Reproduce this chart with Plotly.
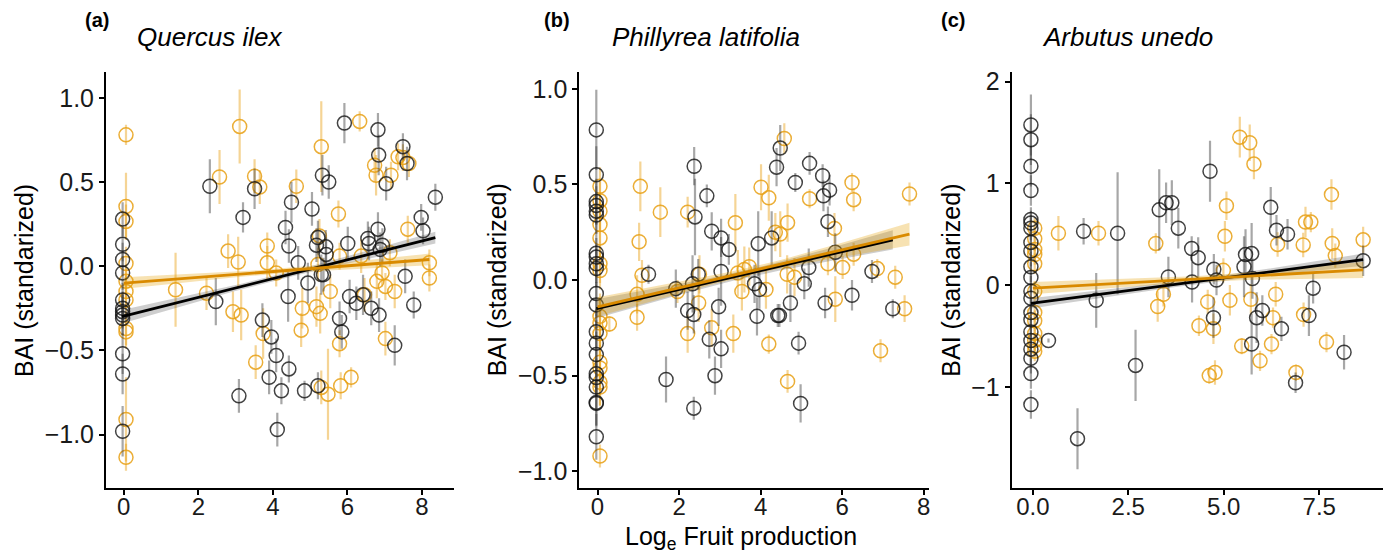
import numpy as np
import plotly.graph_objects as go

# ---------------- data ----------------
# Panel (a) Quercus ilex
a_blk_x = [-0.03]*12 + [2.31,2.47,3.2,3.09,3.51,3.72,3.96,3.9,4.09,4.12,4.23,4.34,4.43,4.41,4.43,4.5,4.68,4.85,4.94,5.05,5.21,5.21,5.17,5.33,5.5,5.42,5.43,5.3,5.36,5.79,5.85,5.92,6.01,6.06,6.24,6.42,6.55,6.58,6.64,6.82,6.84,6.82,6.85,6.94,6.88,7.04,7.27,7.49,7.55,7.6,7.78,7.98,8.03,8.36]
a_blk_y = [0.28,0.13,0.04,-0.04,-0.20,-0.25,-0.29,-0.31,-0.27,-0.52,-0.64,-0.98,
           0.475,-0.21,0.29,-0.77,0.46,-0.32,-0.42,-0.66,-0.53,-0.97,-0.74,0.23,0.12,-0.18,-0.61,0.38,0.02,-0.74,-0.10,0.34,-0.71,0.17,0.125,0.54,0.50,0.115,0.07,-0.05,-0.05,-0.31,-0.39,0.85,0.135,-0.18,-0.22,-0.17,0.165,0.135,-0.25,0.81,0.66,0.22,-0.29,0.125,0.10,0.49,-0.47,0.71,-0.06,0.61,-0.23,0.29,0.21,0.41]
a_blk_e = [0.1,0.1,0.1,0.1,0.1,0.1,0.12,0.1,0.1,0.12,0.12,0.15,
           0.16,0.14,0.09,0.1,0.12,0.1,0.1,0.1,0.1,0.1,0.08,0.1,0.1,0.15,0.08,0.12,0.1,0.06,0.12,0.1,0.08,0.1,0.1,0.12,0.1,0.1,0.1,0.12,0.1,0.1,0.1,0.12,0.1,0.1,0.1,0.12,0.1,0.1,0.1,0.1,0.12,0.1,0.1,0.1,0.1,0.1,0.12,0.08,0.1,0.1,0.08,0.08,0.08,0.08]
a_org_x = [0.06]*11 + [1.39,2.22,2.57,2.8,2.93,3.07,3.11,3.15,3.51,3.65,3.74,3.54,3.85,3.85,4.09,4.63,4.79,4.76,5.17,5.27,5.21,5.3,5.25,5.3,5.48,5.54,5.76,5.79,5.79,5.82,6.1,6.33,6.37,6.46,6.73,6.77,6.79,6.93,7.02,7.02,7.17,7.14,7.27,7.36,7.49,7.62,7.65,8.2,8.2]
a_org_y = [0.78,0.355,0.266,0.016,-0.09,-0.15,-0.20,-0.37,-0.39,-0.91,-1.135,
           -0.14,-0.16,0.53,0.09,-0.27,0.025,0.83,-0.29,0.535,0.47,-0.40,-0.57,0.12,0.02,-0.04,0.475,-0.25,-0.38,-0.24,-0.28,0.01,0.71,0.18,-0.72,-0.76,-0.15,0.31,0.06,-0.46,-0.71,-0.66,0.86,0.06,-0.17,0.60,0.54,-0.09,-0.04,-0.12,-0.43,0.54,0.08,-0.15,0.65,0.645,0.22,0.61,0.02,-0.07]
a_org_e = [0.06,0.2,0.1,0.1,0.1,0.1,0.1,0.1,0.1,0.25,0.08,
           0.22,0.1,0.16,0.1,0.12,0.15,0.22,0.15,0.1,0.1,0.15,0.1,0.08,0.1,0.08,0.1,0.12,0.1,0.12,0.12,0.1,0.27,0.1,0.1,0.27,0.1,0.08,0.08,0.08,0.08,0.06,0.06,0.1,0.1,0.1,0.12,0.1,0.08,0.08,0.1,0.08,0.08,0.1,0.08,0.08,0.08,0.08,0.08,0.08]

# Panel (b) Phillyrea latifolia
b_blk_x = [-0.03]*21 + [1.25,1.68,1.92,2.21,2.33,2.36,2.37,2.39,2.36,2.47,2.68,2.74,2.8,2.88,2.97,3.03,3.03,3.03,3.22,3.85,3.91,3.94,3.97,4.27,4.39,4.42,4.46,4.48,4.73,4.85,4.93,4.98,5.07,5.18,5.2,5.52,5.54,5.69,5.58,5.65,5.83,6.24,6.73,7.24]
b_blk_y = [0.785,0.55,0.41,0.39,0.36,0.34,0.14,0.12,0.085,0.06,-0.07,-0.13,-0.27,-0.33,-0.39,-0.49,-0.51,-0.56,-0.64,-0.645,-0.82,
           0.03,-0.52,-0.045,-0.16,-0.02,-0.18,0.595,0.33,-0.67,0.03,0.44,-0.31,0.255,-0.50,-0.14,0.22,-0.36,0.045,0.16,-0.02,-0.19,0.19,-0.05,0.22,0.59,-0.185,-0.185,0.69,-0.12,0.51,-0.33,-0.645,-0.02,0.065,0.61,0.545,0.44,0.47,-0.12,0.305,0.145,-0.08,0.045,-0.15]
b_blk_e = [0.21,0.15,0.12,0.1,0.1,0.1,0.12,0.1,0.1,0.1,0.12,0.12,0.12,0.12,0.12,0.1,0.1,0.12,0.12,0.12,0.12,
           0.05,0.12,0.1,0.1,0.15,0.1,0.1,0.2,0.06,0.08,0.06,0.1,0.1,0.1,0.1,0.1,0.1,0.18,0.08,0.1,0.1,0.17,0.1,0.14,0.1,0.06,0.06,0.12,0.1,0.05,0.06,0.1,0.08,0.1,0.06,0.06,0.08,0.08,0.08,0.08,0.1,0.08,0.06,0.05]
b_org_x = [0.06]*15 + [0.29,0.97,0.97,1.02,1.05,1.09,1.54,1.96,2.21,2.21,2.48,2.5,2.8,3.33,3.38,3.44,3.54,3.6,3.72,4.01,4.13,4.2,4.2,4.36,4.48,4.58,4.65,4.66,4.66,4.83,5.2,5.65,5.83,5.81,6.01,6.24,6.28,6.28,6.86,6.94,7.3,7.53,7.65]
b_org_y = [0.49,0.415,0.36,0.29,0.22,0.085,0.05,-0.19,-0.225,-0.28,-0.43,-0.46,-0.535,-0.56,-0.92,
           -0.23,-0.075,-0.195,0.20,0.49,0.025,0.355,-0.06,0.355,-0.28,-0.12,0.03,-0.25,-0.28,0.30,0.037,-0.06,0.055,0.07,0.485,-0.05,0.43,-0.335,0.25,0.24,0.74,0.03,0.30,-0.53,0.015,0.425,0.085,-0.10,0.27,0.065,0.51,0.42,0.135,0.06,-0.37,0.015,-0.15,0.45]
b_org_e = [0.1,0.1,0.1,0.1,0.1,0.1,0.1,0.12,0.12,0.12,0.12,0.12,0.12,0.1,0.06,
           0.04,0.1,0.07,0.1,0.13,0.08,0.13,0.06,0.08,0.1,0.1,0.1,0.1,0.1,0.15,0.12,0.1,0.12,0.1,0.12,0.1,0.12,0.05,0.1,0.12,0.08,0.1,0.1,0.06,0.1,0.05,0.06,0.12,0.08,0.06,0.05,0.06,0.06,0.05,0.06,0.06,0.07,0.06]

# Panel (c) Arbutus unedo
c_blk_x = [-0.05]*21 + [0.41,1.17,1.33,1.66,2.22,2.69,3.31,3.49,3.64,3.55,3.81,4.16,4.17,4.33,4.64,4.74,4.73,4.81,5.53,5.57,5.73,5.75,5.73,5.86,6.01,6.23,6.38,6.51,6.67,6.88,7.23,7.34,8.15,8.65]
c_blk_y = [1.575,1.43,1.17,0.93,0.645,0.61,0.56,0.42,0.335,0.18,0.075,-0.06,-0.13,-0.27,-0.34,-0.46,-0.545,-0.63,-0.72,-0.87,-1.175,
           -0.545,-1.51,0.53,-0.15,0.51,-0.79,0.74,0.81,0.81,0.08,0.56,0.36,0.03,0.27,1.12,0.155,-0.32,0.05,0.18,0.30,0.31,0.065,-0.58,-0.32,-0.25,0.765,0.54,-0.43,0.50,-0.96,-0.30,-0.03,-0.66,0.24]
c_blk_e = [0.3,0.25,0.2,0.15,0.12,0.12,0.12,0.15,0.15,0.15,0.15,0.15,0.15,0.15,0.15,0.15,0.15,0.15,0.15,0.15,0.14,
           0.02,0.3,0.13,0.27,0.6,0.35,0.4,0.2,0.22,0.2,0.2,0.12,0.2,0.2,0.3,0.15,0.2,0.15,0.3,0.25,0.3,0.2,0.3,0.25,0.15,0.2,0.15,0.12,0.15,0.1,0.2,0.15,0.17,0.15]
c_org_x = [0.05]*12 + [0.67,1.72,3.22,3.27,3.42,4.35,4.58,4.62,4.73,4.77,4.99,5.03,5.07,5.16,5.42,5.47,5.68,5.71,5.79,5.95,6.25,6.29,6.36,6.41,6.89,7.08,7.09,7.14,7.28,7.69,7.82,7.84,7.92,8.65]
c_org_y = [0.56,0.455,0.35,0.30,0.21,-0.06,-0.27,-0.35,-0.475,-0.545,-0.60,-0.65,
           0.51,0.51,0.41,-0.21,-0.09,-0.40,-0.165,-0.89,-0.43,-0.86,0.145,0.48,0.78,-0.15,1.455,-0.60,1.40,-0.14,1.19,-0.745,-0.58,-0.32,-0.09,0.40,-0.86,0.395,-0.29,0.62,0.62,-0.56,0.89,0.41,0.29,0.445]
c_org_e = [0.1,0.12,0.12,0.1,0.1,0.1,0.1,0.1,0.1,0.1,0.1,0.1,
           0.17,0.12,0.1,0.15,0.12,0.1,0.12,0.08,0.15,0.12,0.12,0.15,0.14,0.15,0.2,0.08,0.18,0.15,0.15,0.1,0.1,0.1,0.12,0.12,0.08,0.12,0.12,0.15,0.1,0.1,0.15,0.15,0.12,0.13]

# fitted lines: x ends, y ends, CI half-width at (start, middle, end)
a_blk_fit_x, a_blk_fit_y, a_blk_fit_w = [-0.05, 8.36], [-0.30, 0.17], [0.04, 0.015, 0.035]
a_org_fit_x, a_org_fit_y, a_org_fit_w = [0.0, 8.2], [-0.10, 0.04], [0.035, 0.015, 0.035]
b_blk_fit_x, b_blk_fit_y, b_blk_fit_w = [-0.03, 7.24], [-0.15, 0.21], [0.05, 0.02, 0.05]
b_org_fit_x, b_org_fit_y, b_org_fit_w = [0.0, 7.65], [-0.14, 0.24], [0.05, 0.02, 0.06]
c_blk_fit_x, c_blk_fit_y, c_blk_fit_w = [-0.05, 8.65], [-0.18, 0.25], [0.05, 0.025, 0.06]
c_org_fit_x, c_org_fit_y, c_org_fit_w = [0.0, 8.65], [-0.03, 0.15], [0.06, 0.03, 0.08]

panel_letters = ["(a)", "(b)", "(c)"]
species = ["Quercus ilex", "Phillyrea latifolia", "Arbutus unedo"]
x_ticks = [[0, 2, 4, 6, 8], [0, 2, 4, 6, 8], [0.0, 2.5, 5.0, 7.5]]
x_ticklabels = [["0", "2", "4", "6", "8"], ["0", "2", "4", "6", "8"], ["0.0", "2.5", "5.0", "7.5"]]
y_ticks = [[-1.0, -0.5, 0.0, 0.5, 1.0], [-1.0, -0.5, 0.0, 0.5, 1.0], [-1, 0, 1, 2]]
y_ticklabels = [["\u22121.0", "\u22120.5", "0.0", "0.5", "1.0"],
                ["\u22121.0", "\u22120.5", "0.0", "0.5", "1.0"],
                ["\u22121", "0", "1", "2"]]
x_title = "Log<sub>e</sub> Fruit production"
y_title = "BAI (standarized)"

# ---------------- layout geometry ----------------
# the page body has an 8px margin, so the figure is drawn 8px smaller
# and all reference pixel positions are shifted by that offset
OFF = 8
W, H = 1393 - OFF, 554 - OFF
px_x = [(106, 455), (580, 930), (1013, 1385)]
px_y = (68, 488)
x_ranges = [[-0.48, 8.87], [-0.45, 8.12], [-0.557, 9.17]]
y_ranges = [[-1.32, 1.156], [-1.09, 1.09], [-2.0, 2.10]]


def fx(p):
    return (p - OFF) / W


def fy(p):
    return 1 - (p - OFF) / H


BLK_PT = "rgba(20,20,20,0.80)"
BLK_ERR = "rgba(60,60,60,0.45)"
ORG_PT = "rgba(232,160,20,0.85)"
ORG_ERR = "rgba(232,160,20,0.45)"
BLK_LINE = "#000000"
ORG_LINE = "#D98A00"
BLK_BAND = "rgba(60,60,60,0.25)"
ORG_BAND = "rgba(230,159,0,0.30)"

fig = go.Figure()

panels = [
    (a_blk_x, a_blk_y, a_blk_e, a_org_x, a_org_y, a_org_e,
     (a_blk_fit_x, a_blk_fit_y, a_blk_fit_w), (a_org_fit_x, a_org_fit_y, a_org_fit_w)),
    (b_blk_x, b_blk_y, b_blk_e, b_org_x, b_org_y, b_org_e,
     (b_blk_fit_x, b_blk_fit_y, b_blk_fit_w), (b_org_fit_x, b_org_fit_y, b_org_fit_w)),
    (c_blk_x, c_blk_y, c_blk_e, c_org_x, c_org_y, c_org_e,
     (c_blk_fit_x, c_blk_fit_y, c_blk_fit_w), (c_org_fit_x, c_org_fit_y, c_org_fit_w)),
]


def band(fit):
    bxs, bys, bw = fit
    xs = np.linspace(bxs[0], bxs[1], 40)
    slope = (bys[1] - bys[0]) / (bxs[1] - bxs[0])
    ys = bys[0] + slope * (xs - bxs[0])
    xm = 0.5 * (bxs[0] + bxs[1])
    half = 0.5 * (bxs[1] - bxs[0])
    wend = 0.5 * (bw[0] + bw[2])
    k = (wend ** 2 - bw[1] ** 2) / half ** 2
    ws = np.sqrt(bw[1] ** 2 + k * (xs - xm) ** 2)
    ws = ws + (xs - xm) / half * (bw[2] - bw[0]) / 2 * np.abs(xs - xm) / half
    return xs, ys, ws


for i, (bx, by, be, ox, oy, oe, bfit, ofit) in enumerate(panels):
    xa = "x" if i == 0 else f"x{i+1}"
    ya = "y" if i == 0 else f"y{i+1}"
    for x, y, e, pc, ec in [(ox, oy, oe, ORG_PT, ORG_ERR), (bx, by, be, BLK_PT, BLK_ERR)]:
        fig.add_trace(go.Scatter(
            x=x, y=y, mode="markers", xaxis=xa, yaxis=ya, showlegend=False,
            marker=dict(symbol="circle-open", size=14, color=pc, line=dict(width=1.5, color=pc)),
            error_y=dict(type="data", array=e, visible=True, color=ec, thickness=2.2, width=0),
            hoverinfo="skip"))
    for fit, bc in [(bfit, BLK_BAND), (ofit, ORG_BAND)]:
        xs, ys, ws = band(fit)
        fig.add_trace(go.Scatter(
            x=np.concatenate([xs, xs[::-1]]), y=np.concatenate([ys + ws, (ys - ws)[::-1]]),
            mode="lines", fill="toself", fillcolor=bc, line=dict(width=0),
            xaxis=xa, yaxis=ya, showlegend=False, hoverinfo="skip"))
    for fit, lc in [(bfit, BLK_LINE), (ofit, ORG_LINE)]:
        fig.add_trace(go.Scatter(
            x=fit[0], y=fit[1], mode="lines", line=dict(color=lc, width=2.8),
            xaxis=xa, yaxis=ya, showlegend=False, hoverinfo="skip"))

FONT = "Liberation Sans, Arial, sans-serif"
axis_common = dict(showline=True, linecolor="black", linewidth=1.7, ticks="outside",
                   ticklen=5, tickwidth=1.5, tickcolor="black", showgrid=False, zeroline=False,
                   tickfont=dict(size=25, color="#1a1a1a", family=FONT), mirror=False)

layout = dict(width=W, height=H, margin=dict(l=0, r=0, t=0, b=0),
              paper_bgcolor="white", plot_bgcolor="white", font=dict(family=FONT))
for i in range(3):
    sx = "" if i == 0 else str(i + 1)
    layout[f"xaxis{sx}"] = dict(axis_common, domain=[fx(px_x[i][0]), fx(px_x[i][1])],
                                range=x_ranges[i], tickvals=x_ticks[i], ticktext=x_ticklabels[i],
                                anchor=f"y{sx}", ticklabelstandoff=-9,
                                tickfont=dict(size=24, color="#1a1a1a", family=FONT))
    layout[f"yaxis{sx}"] = dict(axis_common, domain=[fy(px_y[1]), fy(px_y[0])],
                                range=y_ranges[i], tickvals=y_ticks[i], ticktext=y_ticklabels[i],
                                anchor=f"x{sx}")
fig.update_layout(**layout)

letter_pos = [97, 558, 954]
title_pos = [210, 707, 1129]
ytitle_pos = [24, 498, 952]
ann = []
for i in range(3):
    ann.append(dict(text=f"<b>{panel_letters[i]}</b>", x=fx(letter_pos[i]), y=fy(16),
                    xref="paper", yref="paper", showarrow=False, xanchor="center", yanchor="middle",
                    font=dict(size=20, color="black", family=FONT)))
    ann.append(dict(text=f"<i>{species[i]}</i>", x=fx(title_pos[i]), y=fy(33),
                    xref="paper", yref="paper", showarrow=False, xanchor="center", yanchor="middle",
                    font=dict(size=26, color="black", family=FONT)))
    ann.append(dict(text=y_title, x=fx(ytitle_pos[i]), y=fy(278), textangle=-90,
                    xref="paper", yref="paper", showarrow=False, xanchor="center", yanchor="middle",
                    font=dict(size=25, color="black", family=FONT)))
ann.append(dict(text=x_title, x=fx(742), y=fy(538), xref="paper", yref="paper",
                showarrow=False, xanchor="center", yanchor="middle",
                font=dict(size=25, color="black", family=FONT)))
fig.update_layout(annotations=ann)

fig.write_html("out.html")
